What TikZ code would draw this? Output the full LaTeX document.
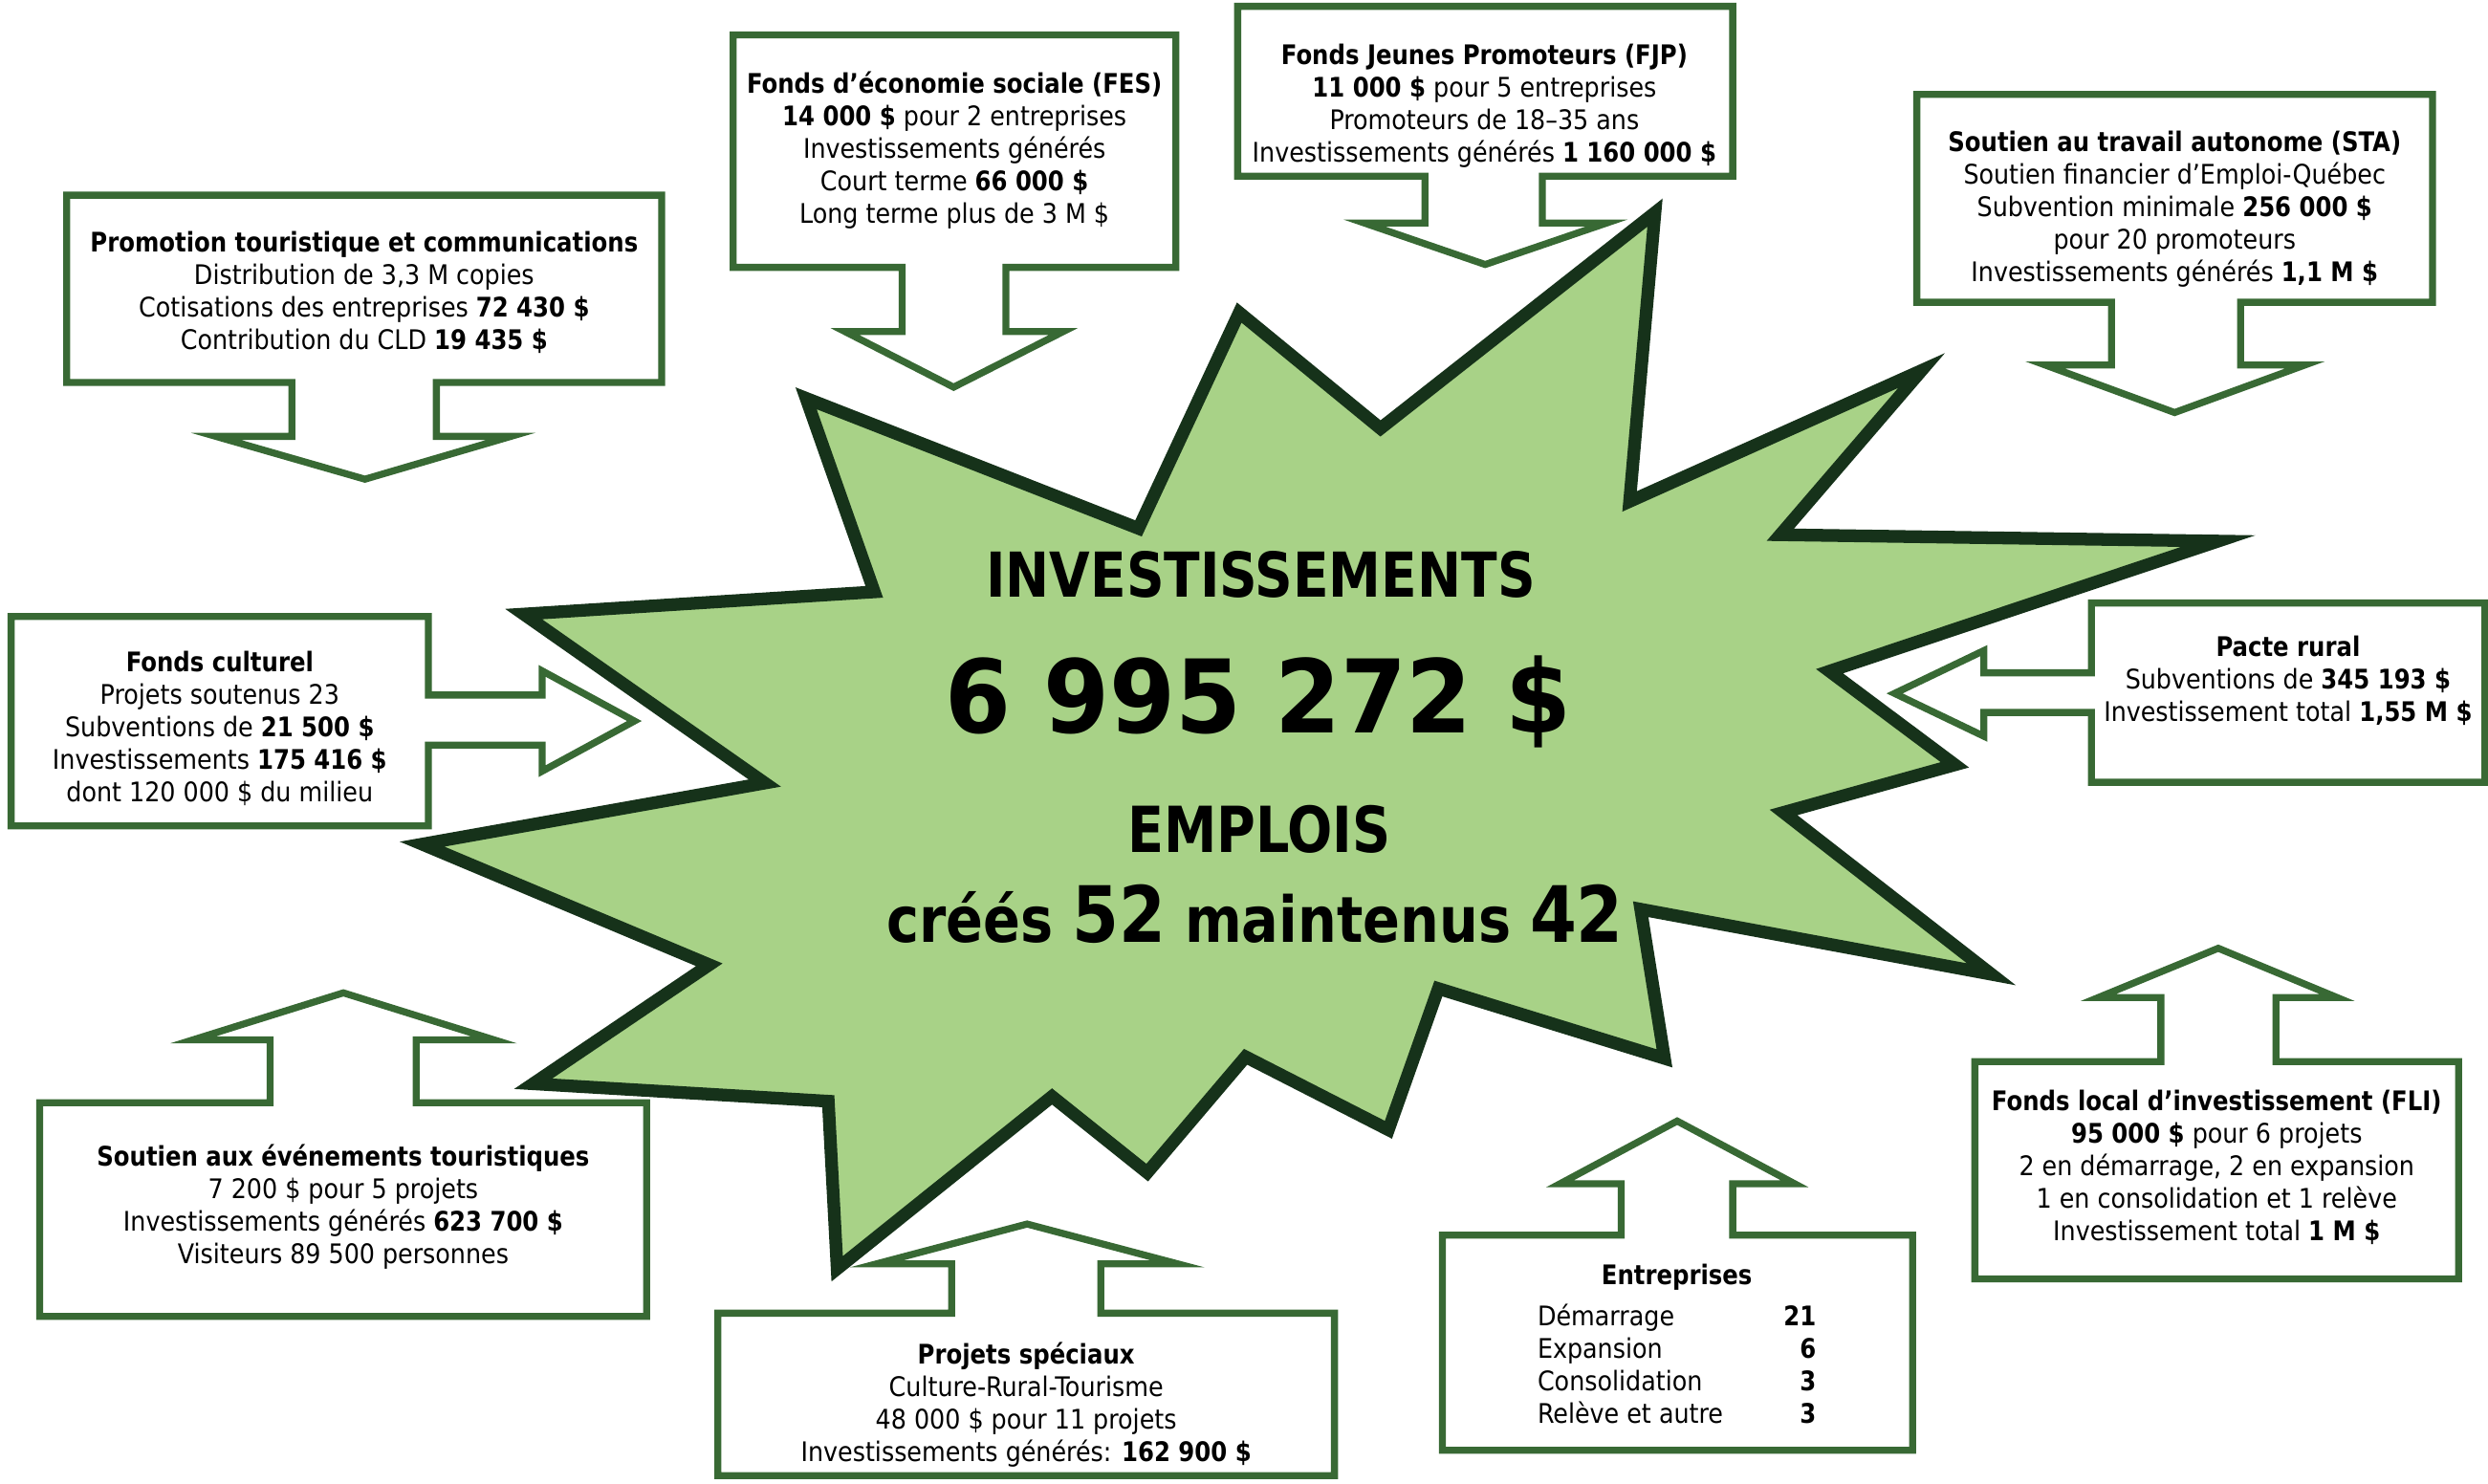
\documentclass[tikz,border=0pt]{standalone}
\usepackage{fontspec}
\usepackage{graphicx}
\setmainfont{DejaVu Sans Condensed}[BoldFeatures={FakeStretch=0.96}]
\definecolor{boxgreen}{RGB}{56,105,52}
\definecolor{stardark}{RGB}{22,50,26}
\definecolor{starfill}{RGB}{168,210,135}
\tikzset{
  calloutbox/.style={draw=boxgreen, line width=4.4pt, fill=white, line join=miter, miter limit=10},
  burst/.style={draw=stardark, fill=starfill, line width=8pt, line join=miter, miter limit=12},
  boxtext/.style={font=\fontsize{17}{20.5}\selectfont, align=center, inner sep=0pt, anchor=north, text=black},
  bigtext/.style={inner sep=0pt, anchor=base, text=black},
}
\begin{document}
\begin{tikzpicture}[x=1pt,y=-1pt]
\useasboundingbox (0,0) rectangle (1568,935);

% central burst
\draw[burst] (508,251) -- (717.5,333) -- (781,197) -- (870,270) -- (1043,134) -- (1027,316)
  -- (1211,233.5) -- (1122,337) -- (1398,341) -- (1153,423) -- (1232,482) -- (1124,512)
  -- (1255,614) -- (1034,573) -- (1049,667) -- (906.5,623) -- (875,712) -- (785,666)
  -- (723,739) -- (663,691) -- (527.6,799.6) -- (522,694) -- (336,683) -- (447,608)
  -- (266,532) -- (482,493.5) -- (330,387) -- (551,373) -- cycle;

\node[bigtext, font=\bfseries\fontsize{39}{40}\selectfont] (inv) at (794.5,376.5) {\scalebox{0.985}[1]{INVESTISSEMENTS}};
\node[bigtext, font=\bfseries\fontsize{64}{66}\selectfont] (tot) at (793,462) {\scalebox{1.08}[1]{6 995 272 \$}};
\node[bigtext, font=\bfseries\fontsize{40}{42}\selectfont] (emp) at (793.5,537) {\scalebox{0.97}[1]{EMPLOIS}};
\node[bigtext, font=\bfseries\fontsize{40}{42}\selectfont] (jobs) at (791,594)
  {créés {\fontsize{49}{50}\selectfont 52} maintenus {\fontsize{49}{50}\selectfont 42}};

% B1 Promotion touristique
\draw[calloutbox] (42,123) -- (417,123) -- (417,241) -- (275,241) -- (275,275) -- (322,275)
  -- (230,302) -- (136,275) -- (184,275) -- (184,241) -- (42,241) -- cycle;
\node[boxtext] (t1) at (229.5,158.5-14.35) {\strut\textbf{Promotion touristique et communications}\\
  Distribution de 3,3 M copies\\ Cotisations des entreprises \textbf{72 430 \$}\\ Contribution du CLD \textbf{19 435 \$}};

% B2 FES
\draw[calloutbox] (462,22) -- (741,22) -- (741,168.5) -- (634,168.5) -- (634,209) -- (670,209)
  -- (601,244) -- (532.6,209) -- (568.5,209) -- (568.5,168.5) -- (462,168.5) -- cycle;
\node[boxtext] (t2) at (601.5,58.5-14.35) {\strut\textbf{Fonds d’économie sociale (FES)}\\
  \textbf{14 000 \$} pour 2 entreprises\\ Investissements générés\\ Court terme \textbf{66 000 \$}\\ Long terme plus de 3 M \$};

% B3 FJP
\draw[calloutbox] (780,4) -- (1092,4) -- (1092,111) -- (972,111) -- (972,140.6) -- (1012.4,140.6)
  -- (936,166.7) -- (860,140.6) -- (898,140.6) -- (898,111) -- (780,111) -- cycle;
\node[boxtext] (t3) at (935.5,40.5-14.35) {\strut\textbf{Fonds Jeunes Promoteurs (FJP)}\\
  \textbf{11 000 \$} pour 5 entreprises\\ Promoteurs de 18–35 ans\\ Investissements générés \textbf{1 160 000 \$}};

% B4 STA
\draw[calloutbox] (1208,59.5) -- (1533,59.5) -- (1533,190.5) -- (1412,190.5) -- (1412,230) -- (1452.7,230)
  -- (1370.5,260) -- (1288.8,230) -- (1330.7,230) -- (1330.7,190.5) -- (1208,190.5) -- cycle;
\node[boxtext] (t4) at (1370.5,95.5-14.35) {\strut\textbf{Soutien au travail autonome (STA)}\\
  Soutien financier d’Emploi-Québec\\ Subvention minimale \textbf{256 000 \$}\\ pour 20 promoteurs\\ Investissements générés \textbf{1,1 M \$}};

% B5 Fonds culturel
\draw[calloutbox] (7,388.5) -- (270,388.5) -- (270,438) -- (341.7,438) -- (341.7,422.8) -- (399.8,454.4)
  -- (341.7,486) -- (341.7,469.6) -- (270,469.6) -- (270,520.5) -- (7,520.5) -- cycle;
\node[boxtext] (t5) at (138.5,423-14.35) {\strut\textbf{Fonds culturel}\\
  Projets soutenus 23\\ Subventions de \textbf{21 500 \$}\\ Investissements \textbf{175 416 \$}\\ dont 120 000 \$ du milieu};

% B6 Pacte rural
\draw[calloutbox] (1318,380) -- (1566,380) -- (1566,493) -- (1318,493) -- (1318,449) -- (1250.3,449)
  -- (1250.3,464) -- (1194,437) -- (1250.3,410) -- (1250.3,424) -- (1318,424) -- cycle;
\node[boxtext] (t6) at (1442,413.5-14.35) {\strut\textbf{Pacte rural}\\
  Subventions de \textbf{345 193 \$}\\ Investissement total \textbf{1,55 M \$}};

% B7 Soutien aux evenements
\draw[calloutbox] (25,695) -- (170.2,695) -- (170.2,655.3) -- (121.7,655.3) -- (216.4,625.7) -- (311.3,655.3)
  -- (262.3,655.3) -- (262.3,695) -- (407.5,695) -- (407.5,829.6) -- (25,829.6) -- cycle;
\node[boxtext] (t7) at (216.3,734.5-14.35) {\strut\textbf{Soutien aux événements touristiques}\\
  7 200 \$ pour 5 projets\\ Investissements générés \textbf{623 700 \$}\\ Visiteurs 89 500 personnes};

% B8 Projets speciaux
\draw[calloutbox] (452.4,827.6) -- (599.8,827.6) -- (599.8,796.5) -- (552.4,796.5) -- (647.3,771.4) -- (742.2,796.5)
  -- (693.7,796.5) -- (693.7,827.6) -- (841,827.6) -- (841,930) -- (452.4,930) -- cycle;
\node[boxtext] (t8) at (646.7,859.5-14.35) {\strut\textbf{Projets spéciaux}\\
  Culture-Rural-Tourisme\\ 48 000 \$ pour 11 projets\\ Investissements générés: \textbf{162 900 \$}};

% B9 Entreprises
\draw[calloutbox] (909,778.4) -- (1021.7,778.4) -- (1021.7,746) -- (983.2,746) -- (1057,706.5) -- (1131,746)
  -- (1092,746) -- (1092,778.4) -- (1205.4,778.4) -- (1205.4,914) -- (909,914) -- cycle;
\node[boxtext] (t9) at (1056.75,809.5-14.35) {\strut\textbf{Entreprises}\\[5.5pt]
  \makebox[175.5pt]{Démarrage\hfill\textbf{21}}\\
  \makebox[175.5pt]{Expansion\hfill\textbf{6}}\\
  \makebox[175.5pt]{Consolidation\hfill\textbf{3}}\\
  \makebox[175.5pt]{Relève et autre\hfill\textbf{3}}};

% B10 FLI
\draw[calloutbox] (1244.6,669) -- (1361.8,669) -- (1361.8,628.7) -- (1322.3,628.7) -- (1398,597.6) -- (1473,628.7)
  -- (1434.3,628.7) -- (1434.3,669) -- (1549.5,669) -- (1549.5,806) -- (1244.6,806) -- cycle;
\node[boxtext] (t10) at (1397,699.5-14.35) {\strut\textbf{Fonds local d’investissement (FLI)}\\
  \textbf{95 000 \$} pour 6 projets\\ 2 en démarrage, 2 en expansion\\ 1 en consolidation et 1 relève\\ Investissement total \textbf{1 M \$}};

\end{tikzpicture}
\end{document}
